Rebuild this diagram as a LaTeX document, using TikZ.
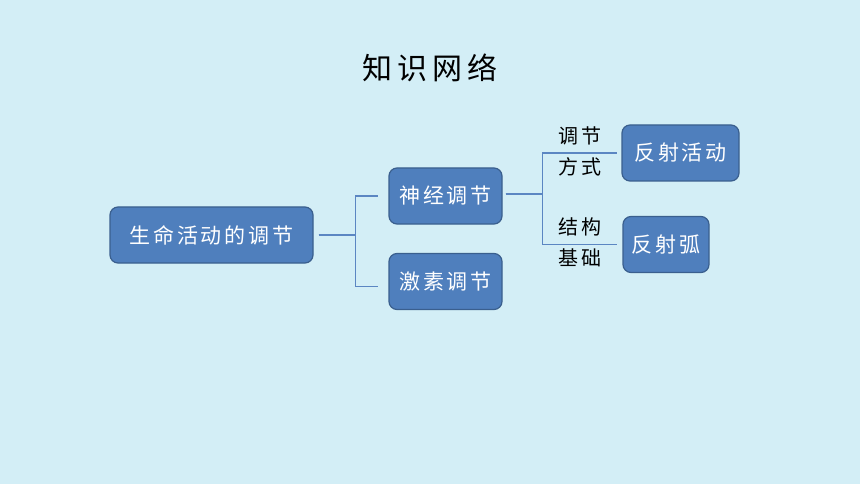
\documentclass[tikz,border=0pt]{standalone}
\usepackage{fontspec}
\newfontfamily\cjk{Noto Sans CJK SC}
\usetikzlibrary{positioning, calc}
\definecolor{bgcol}{HTML}{D3EEF6}
\definecolor{boxfill}{HTML}{4F7FBD}
\definecolor{boxline}{HTML}{3A5F8E}
\definecolor{linkcol}{HTML}{5B86C2}
\tikzstyle{Box} = [
draw=boxline, line width=1.2pt, fill=boxfill,
rounded corners=8pt, minimum height=56pt,
text=white, inner sep=0pt,
font=\cjk\fontsize{21}{24}\selectfont\addfontfeature{LetterSpace=14}]
\tikzstyle{Link} = [linkcol, line width=1.3pt]
\tikzstyle{Note} = [align=center, inner sep=0pt,
font=\cjk\fontsize{20}{31}\selectfont\addfontfeature{LetterSpace=17}]

\begin{document}
\begin{tikzpicture}[x=1pt, y=-1pt]
    \fill[bgcol] (0,0) rectangle (860,484);
    \useasboundingbox (0,0) rectangle (860,484);
    \node (0) at (430,68) {\cjk\fontsize{30}{34}\selectfont\addfontfeature{LetterSpace=16}知识网络};
    \node (1) [Box, minimum width=203pt] at (211.5,235) {生命活动的调节};
    \node (2) [Box, minimum width=113pt] at (445.5,196) {神经调节};
    \node (3) [Box, minimum width=113pt] at (445.5,281.5) {激素调节};
    \node (4) [Box, minimum width=117pt] at (680.5,153) {反射活动};
    \node (5) [Box, minimum width=86pt] at (666,244.5) {反射弧};
    \node (6) [Note] at (580,151) {调节\\方式};
    \node (7) [Note] at (580,242) {结构\\基础};
    \draw[Link] ([xshift=5pt]1.east) -- ++(37,0) |- ([xshift=-10pt]2.west);
    \draw[Link] ([xshift=5pt]1.east) -- ++(37,0) |- ([xshift=-10pt, yshift=-5pt]3.west);
    \draw[Link] ([xshift=3pt, yshift=2pt]2.east) -- ++(37,0) |- ([xshift=-4pt]4.west);
    \draw[Link] ([xshift=3pt, yshift=2pt]2.east) -- ++(37,0) |- ([xshift=-5pt]5.west);
\end{tikzpicture}
\end{document}
